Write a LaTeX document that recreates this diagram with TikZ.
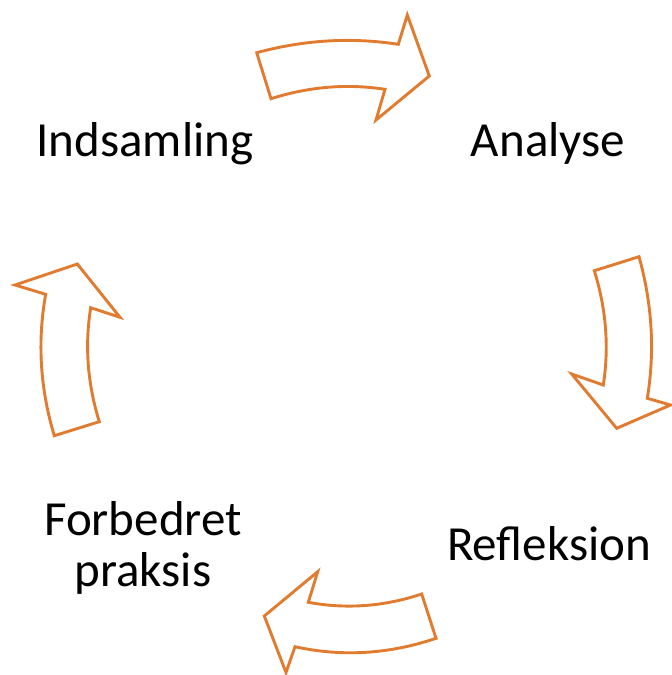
\documentclass[tikz,border=0pt]{standalone}
\usepackage{fontspec}
\setmainfont{Carlito}
\usepackage{xcolor}
\definecolor{accentorange}{HTML}{E07B2F}

\begin{document}
\begin{tikzpicture}[x=1pt, y=-1pt]
      \tikzstyle{stage} = [anchor=base, inner sep=0pt, align=center, font=\fontsize{49}{51}\selectfont]
      \tikzstyle{blockarrow} = [draw=accentorange, line width=2.9pt, line join=miter, fill=white]

      \useasboundingbox (0,0) rectangle (672,675);

      \node[stage] (collect) at (145,156.7) {Indsamling};
      \node[stage] (analyse) at (548,156.7) {Analyse};
      \node[stage] (reflect) at (549,560) {Refleksion};
      \node[stage] (practice) at (143,586) {Forbedret\\praksis};

      % top arrow
      \draw[blockarrow] (256.7,52.7) .. controls (303.9,39.9) and (351.1,37.1) .. (398.3,44.3)
        -- (407.3,15) -- (429.3,76) -- (376,120) -- (385,89.3)
        .. controls (347,83.5) and (309,86.6) .. (271,98.7) -- cycle;
      % right arrow
      \draw[blockarrow] (594.3,270.7) -- (639,256.7) .. controls (652.2,303.9) and (655,351.1) .. (647.3,398.3)
        -- (670.5,405) -- (616.7,428.3) -- (571.7,374) -- (603.3,385)
        .. controls (609.2,347.1) and (606.2,309) .. cycle;
      % bottom arrow
      \draw[blockarrow] (421.7,594) -- (436,638.3) .. controls (389,654.2) and (342,657) .. (295,646.7)
        -- (286,672.5) -- (264.3,616) -- (317.7,571.7) -- (308.3,602.3)
        .. controls (346.1,609.3) and (383.9,606.6) .. cycle;
      % left arrow
      \draw[blockarrow] (54.3,435.7) -- (99.3,421.7) .. controls (87.5,383.7) and (84.6,345.7) .. (90.7,307.7)
        -- (120,317.3) -- (77.3,264) -- (15,285) -- (45.7,294.3)
        .. controls (37.2,341.4) and (40.1,388.6) .. cycle;
    \end{tikzpicture}
\end{document}
